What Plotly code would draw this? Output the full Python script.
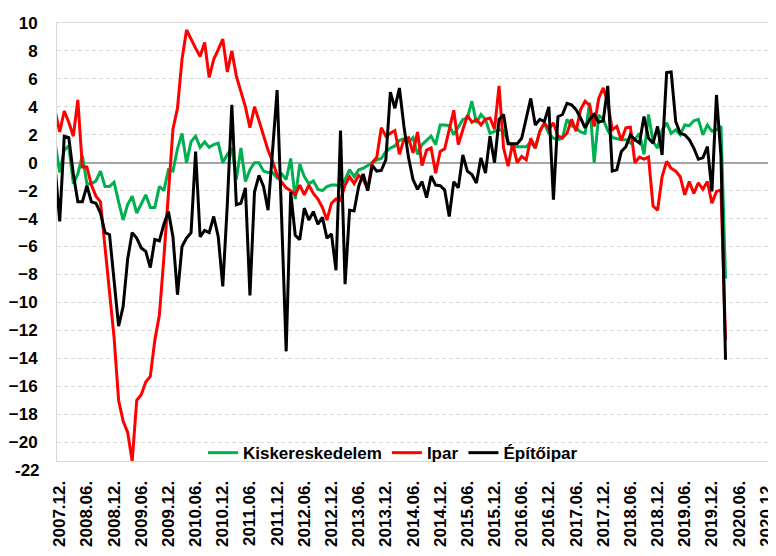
import plotly.graph_objects as go

# ---- data (monthly, first value = 2007.11, last = 2020.03) ----
first_month_offset = -1  # 2007.11 relative to 2007.12

kiskereskedelem = [
    1.4, -0.7, 0.9, 1.2, -1.5, -0.8, 0.5, -1.5, -1.5, -1.3,
    -0.6, -1.7, -1.7, -1.4, -2.8, -4.1, -3.0, -2.4, -3.6, -2.9,
    -2.3, -3.2, -3.2, -1.7, -2.0, -0.5, -0.6, 1.0, 2.1, 0.0,
    1.5, 1.9, 1.1, 1.5, 1.1, 1.3, 1.4, 0.0, 0.6, 1.05,
    -1.2, 1.05, -1.35, -0.5, 0.0, 0.0, -0.6, -0.7, -0.7, -1.1,
    -0.8, -1.2, 0.3, -2.6, -0.1, -1.0, -1.5, -1.3, -1.9, -2.0,
    -1.7, -1.6, -1.6, -1.7, -1.2, -0.5, -1.0, -0.5, -0.4, -0.2,
    0.0, 0.2, 0.3, 0.8, 1.05, 1.2, 1.6, 1.7, 1.5, 1.8,
    0.6, 1.3, 1.6, 1.9, 1.3, 2.7, 2.7, 2.65, 2.0, 2.6,
    3.1, 3.2, 4.4, 2.85, 3.45, 3.1, 2.1, 2.25, 2.35, 2.3,
    1.5, 1.15, 1.15, 1.15, 1.15, 1.5, 1.05, 2.25, 2.8, 2.1,
    1.75, 1.65, 1.75, 3.1, 2.65, 2.5, 2.2, 2.1, 4.3, 0.0,
    3.4, 3.1, 2.3, 1.8, 1.7, 1.65, 1.65, 1.4, 1.65, 2.1,
    0.6, 3.45, 1.5, 1.05, 2.35, 2.85, 2.1, 2.35, 2.0, 2.7,
    2.65, 3.0, 3.1, 2.0, 2.7, 2.25, 2.35, 2.6, -8.3,
]

ipar = [
    3.7, 2.2, 3.7, 2.9, 1.9, 4.5, -0.3, -0.3, -1.6, -2.4,
    -2.8, -6.0, -9.0, -12.5, -17.0, -18.5, -19.3, -21.35, -17.0, -16.6,
    -15.7, -15.3, -12.7, -10.9, -6.8, -2.0, 2.4, 3.9, 7.4, 9.5,
    8.8, 8.2, 7.6, 8.6, 6.1, 7.4, 8.1, 8.85, 6.5, 8.0,
    6.2, 5.1, 4.0, 2.5, 4.0, 3.0, 1.9, 0.9, 0.1, -0.9,
    -1.4, -1.8, -2.0, -2.3, -1.6, -2.3, -1.6, -2.2, -2.6, -3.2,
    -4.1, -2.9, -2.6, -2.7, -1.6, -1.0, -1.5, -0.9, -1.2, -1.9,
    0.0, 0.4, 2.5, 1.9, 2.1, 2.3, 0.6, 1.65, 1.8, 0.7,
    2.2, -0.2, 0.9, 1.05, -0.75, 0.8, 1.0, 2.3, 3.75, 1.3,
    2.3, 3.4, 2.9, 3.1, 2.7, 3.1, 3.2, 2.4, 5.5, 1.05,
    -0.25, 1.4, 0.0, 0.45, 0.2, 1.75, 1.05, 2.25, 2.85, 2.4,
    2.85, 1.9, 1.8, 2.1, 3.1, 2.25, 3.8, 4.4, 4.1, 2.6,
    4.6, 5.35, 4.3, 2.35, 2.6, 1.6, 2.5, 2.55, 0.0, 0.4,
    0.25, 0.4, -3.1, -3.4, -1.0, 0.1, -0.4, -0.6, -1.0, -2.3,
    -1.35, -2.2, -1.45, -1.9, -1.35, -2.9, -2.05, -1.95, -12.7,
]

epitoipar = [
    -0.4, -4.2, 1.9, 1.8, -0.8, -2.8, -2.8, -1.65, -2.8, -2.9,
    -3.6, -5.0, -5.15, -8.4, -11.7, -10.3, -6.9, -5.0, -5.4, -6.1,
    -6.35, -7.5, -5.5, -5.6, -4.4, -3.5, -5.3, -9.45, -6.0, -5.4,
    -5.0, 0.8, -5.3, -4.85, -5.0, -3.85, -5.3, -8.85, -3.0, 4.15,
    -3.0, -2.9, -1.8, -9.5, -2.1, -0.9, -1.7, -3.4, 1.0, 5.2,
    -4.0, -13.5, -2.1, -5.2, -5.5, -3.25, -4.1, -3.5, -4.4, -3.9,
    -5.4, -5.1, -7.7, 2.3, -8.7, -3.4, -3.45, -1.7, -0.8, -2.0,
    -0.2, -0.6, -0.55, 0.2, 5.05, 3.9, 5.35, 2.6, 0.4, -1.2,
    -1.9, -1.35, -2.5, -0.95, -1.6, -1.65, -1.95, -3.85, -1.35, -1.8,
    0.55, -0.6, -0.85, -1.45, 0.35, -0.75, 1.9, 0.0, 3.1, 3.45,
    1.35, 1.35, 1.35, 1.75, 3.3, 4.6, 2.7, 3.1, 2.95, 4.0,
    -2.65, 3.3, 3.45, 4.25, 4.15, 3.8, 3.2, 2.5, 3.1, 3.45,
    2.9, 3.0, 5.5, -0.6, -0.5, 0.8, 1.15, 2.0, 1.65, 1.4,
    3.3, 1.75, 1.4, 2.6, 0.55, 6.45, 6.5, 2.95, 2.1, 2.0,
    1.65, 1.05, 0.25, 0.35, 1.15, -2.05, 4.85, 0.45, -14.1,
]

tick_labels = [
    "2007.12.", "2008.06.", "2008.12.", "2009.06.", "2009.12.", "2010.06.",
    "2010.12.", "2011.06.", "2011.12.", "2012.06.", "2012.12.", "2013.06.",
    "2013.12.", "2014.06.", "2014.12.", "2015.06.", "2015.12.", "2016.06.",
    "2016.12.", "2017.06.", "2017.12.", "2018.06.", "2018.12.", "2019.06.",
    "2019.12.", "2020.06.", "2020.12.",
]
y_ticks = [10, 8, 6, 4, 2, 0, -2, -4, -6, -8, -10, -12, -14, -16, -18, -20]
y_bottom_label = -22
y_range = [-21.35, 10]

series = [
    ("Kiskereskedelem", kiskereskedelem, "#00B050"),
    ("Ipar", ipar, "#FF0000"),
    ("Építőipar", epitoipar, "#000000"),
]

x = list(range(first_month_offset, first_month_offset + len(ipar)))
tick_pos = [6 * i for i in range(len(tick_labels))]

FONT = "Liberation Sans"
TF = dict(family=FONT, size=17, color="#000", weight="bold")
fig = go.Figure()
for name, vals, color in series:
    fig.add_trace(go.Scatter(x=x, y=vals, mode="lines", name=name,
                             line=dict(color=color, width=3)))

bottom_label_paper = (y_bottom_label - y_range[0]) / (y_range[1] - y_range[0])

# the page body adds an 8px offset, so the figure is 8px smaller than the window
fig.update_layout(
    width=768, height=548,
    margin=dict(l=49, r=7, t=15, b=95, autoexpand=False),
    paper_bgcolor="white", plot_bgcolor="white",
    showlegend=True,
    legend=dict(orientation="h", x=0.205, xanchor="left", y=0.018, yanchor="middle",
                bgcolor="rgba(0,0,0,0)", font=TF, itemwidth=30, tracegroupgap=0),
    xaxis=dict(range=[-0.6, 156.6], tickmode="array", tickvals=tick_pos, ticktext=tick_labels,
               tickangle=-90, tickfont=TF, automargin=False,
               showgrid=False, zeroline=False, showline=True, linecolor="#d9d9d9", linewidth=1,
               mirror=True, ticks="", ticklabelstandoff=12),
    yaxis=dict(range=y_range, tickmode="array", tickvals=y_ticks, tickfont=TF, automargin=False,
               showgrid=True, gridcolor="#d9d9d9", gridwidth=1, griddash="4px,3px",
               zeroline=True, zerolinecolor="#a6a6a6", zerolinewidth=1.5,
               showline=True, linecolor="#d9d9d9", linewidth=1, mirror=True,
               ticks="", ticklabelstandoff=15),
    annotations=[dict(text=str(y_bottom_label), xref="paper", x=0, xanchor="right", xshift=-15,
                      yref="paper", y=bottom_label_paper, yanchor="middle", showarrow=False,
                      font=TF)],
)

fig.write_html("out.html")
